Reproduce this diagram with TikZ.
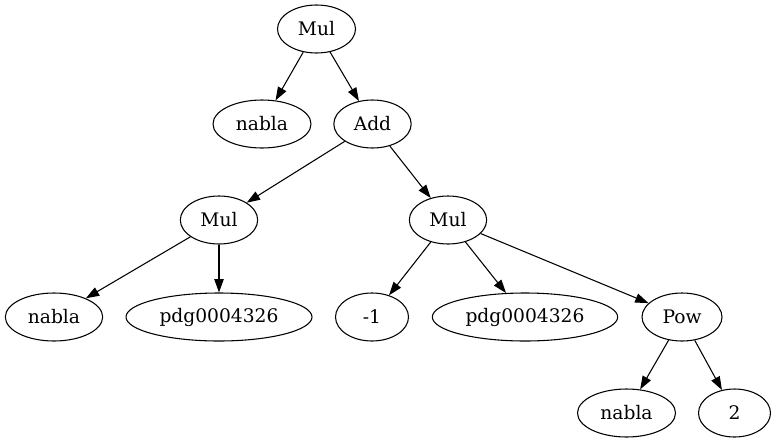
\documentclass[tikz,border=0pt]{standalone}
\usepackage{fontspec}
\setmainfont{DejaVu Serif}
\usetikzlibrary{arrows.meta,shapes.geometric}

\begin{document}
\begin{tikzpicture}[x=0.75pt,y=-0.75pt,
term/.style={draw,ellipse,minimum width=54pt,minimum height=36pt,inner sep=0pt,line width=0.8pt,font=\fontsize{14}{16}\selectfont},
arr/.style={-{Triangle[length=10pt,width=7pt]},line width=0.8pt}]
\useasboundingbox (0,0) rectangle (777,443);
\node[term,minimum width=58.5pt] (mulA) at (316.5,29) {Mul};
\node[term,minimum width=73.5pt] (nablaA) at (262,124) {nabla};
\node[term,minimum width=58pt] (add) at (372.5,124) {Add};
\node[term,minimum width=58pt] (mulB) at (219,220) {Mul};
\node[term,minimum width=58pt] (mulC) at (448,220) {Mul};
\node[term,minimum width=73pt] (nablaB) at (54,317) {nabla};
\node[term,minimum width=139.5pt] (pdgA) at (219,317) {pdg0004326};
\node[term,minimum width=54.75pt] (neg) at (372,317) {-1};
\node[term,minimum width=139pt] (pdgB) at (525,317) {pdg0004326};
\node[term,minimum width=60pt] (pow) at (682,317) {Pow};
\node[term,minimum width=73.5pt] (nablaC) at (626.5,413) {nabla};
\node[term] (two) at (734.5,413) {2};
\draw[arr] (mulA)--(nablaA);
\draw[arr] (mulA)--(add);
\draw[arr] (add)--(mulB);
\draw[arr] (add)--(mulC);
\draw[arr] (mulB)--(nablaB);
\draw[arr] (mulB)--(pdgA);
\draw[arr] (mulC)--(neg);
\draw[arr] (mulC)--(pdgB);
\draw[arr] (mulC)--(pow);
\draw[arr] (pow)--(nablaC);
\draw[arr] (pow)--(two);
\end{tikzpicture}
\end{document}
